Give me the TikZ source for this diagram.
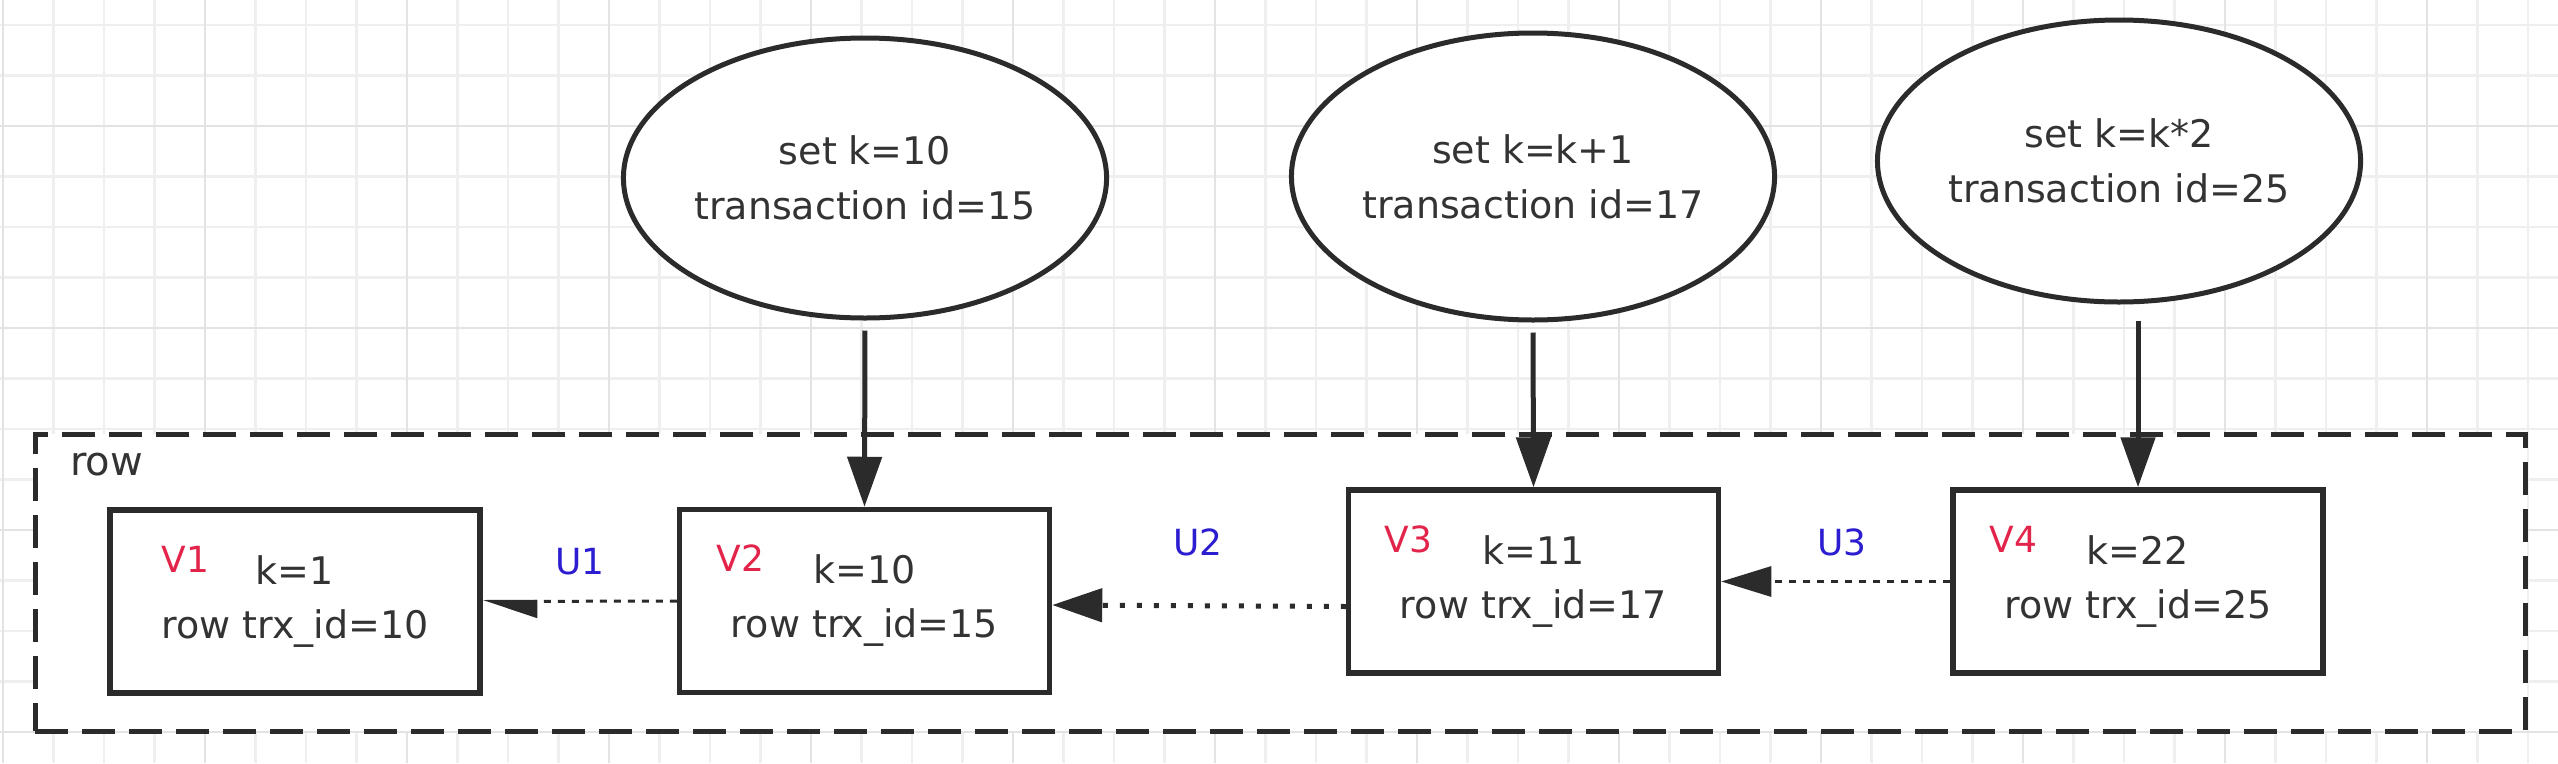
\documentclass[tikz,border=0pt]{standalone}
\usepackage{fontspec}
\setmainfont{DejaVu Sans}
\usetikzlibrary{shapes.geometric,arrows.meta,calc}
\definecolor{gridminor}{HTML}{EFEFEF}
\definecolor{gridmajor}{HTML}{E3E3E3}
\definecolor{ink}{HTML}{2B2B2B}
\definecolor{txt}{HTML}{333333}
\definecolor{vred}{HTML}{E3244A}
\definecolor{ublue}{HTML}{2C1ED0}
\begin{document}
\begin{tikzpicture}[x=1pt,y=-1pt,
  every node/.style={text=txt},
  ell/.style={ellipse, draw=ink, line width=5pt, fill=white, inner sep=0pt, align=center,
    font=\fontsize{38}{55}\selectfont},
  verbox/.style={rectangle, draw=ink, line width=5.5pt, fill=white, minimum width=370pt,
    minimum height=183pt, inner sep=0pt, align=center, font=\fontsize{38}{54}\selectfont},
  vlab/.style={text=vred, font=\fontsize{36}{36}\selectfont, inner sep=0pt},
  ulab/.style={text=ublue, font=\fontsize{36}{36}\selectfont, inner sep=0pt},
  solidarrow/.style={draw=ink, line width=5pt, -{Triangle[length=50pt,width=34pt]}},
  thindots/.style={draw=ink, line width=3pt, dash pattern=on 7pt off 7pt},
  thickdots/.style={draw=ink, line width=5pt, dash pattern=on 5pt off 12pt},
  gridline/.style={draw=gridminor, line width=2.5pt},
  gridmain/.style={draw=gridmajor, line width=2.5pt}
]
\useasboundingbox (0,0) rectangle (2558,763);
\fill[white] (0,0) rectangle (2558,763);
% background grid
\foreach \k in {0,...,50} {
  \pgfmathsetmacro\gx{3+50.5*\k}
  \draw[gridline] (\gx,0) -- (\gx,763);
}
\foreach \k in {0,...,14} {
  \pgfmathsetmacro\gy{25+50.5*\k}
  \draw[gridline] (0,\gy) -- (2558,\gy);
}
\foreach \k in {0,...,12} {
  \pgfmathsetmacro\gx{3+202*\k}
  \draw[gridmain] (\gx,0) -- (\gx,763);
}
\foreach \k in {0,...,3} {
  \pgfmathsetmacro\gy{126+202*\k}
  \draw[gridmain] (0,\gy) -- (2558,\gy);
}

% row container
\node[draw=ink, line width=5pt, dash pattern=on 33pt off 14pt, fill=white,
  minimum width=2490pt, minimum height=297pt, inner sep=0pt] (row) at (1280,582.5) {};
\node[font=\fontsize{40}{40}\selectfont, anchor=base, inner sep=0pt] (rowlab) at (106.7,475) {row};

% transactions
\node[ell, minimum width=468pt, minimum height=280pt] (E1) at (865,178) {set k=10\\transaction id=15};
\node[ell, minimum width=468pt, minimum height=287pt] (E2) at (1533,176.5) {set k=k+1\\transaction id=17};
\node[ell, minimum width=472pt, minimum height=282pt] (E3) at (2119,161) {set k=k*2\\transaction id=25};

% versions
\node[verbox] (V1) at (295,601.5) {k=1\\row trx\_id=10};
\node[verbox] (V2) at (864.5,601) {k=10\\row trx\_id=15};
\node[verbox] (V3) at (1533.5,581.5) {k=11\\row trx\_id=17};
\node[verbox] (V4) at (2138,581.5) {k=22\\row trx\_id=25};

\node[vlab] (V1l) at ($(V1.north west)+(78,52)$) {V1};
\node[vlab] (V2l) at ($(V2.north west)+(64,51)$) {V2};
\node[vlab] (V3l) at ($(V3.north west)+(62.5,52)$) {V3};
\node[vlab] (V4l) at ($(V4.north west)+(63,52)$) {V4};

\node[ulab] (U1l) at (580,561.7) {U1};
\node[ulab] (U2l) at (1198,542) {U2};
\node[ulab] (U3l) at (1842,542) {U3};

% connectors
\draw[solidarrow, shorten <=10pt] (E1.south) -- (V2.north);
\draw[solidarrow, shorten <=10pt] (E2.south) -- (V3.north);
\draw[solidarrow, shorten <=16pt] (E3.south -| V4.north) -- (V4.north);

\draw[thindots, -{Triangle[length=50pt,width=33pt,harpoon]}] (V2.west) -- (V1.east);
\draw[thickdots, -{Triangle[length=50pt,width=33pt]}] ([yshift=-25pt]V3.west) -- ([yshift=-4pt]V2.east);
\draw[thindots, -{Triangle[length=50pt,width=30pt]}] (V4.west) -- (V3.east);
\end{tikzpicture}
\end{document}
